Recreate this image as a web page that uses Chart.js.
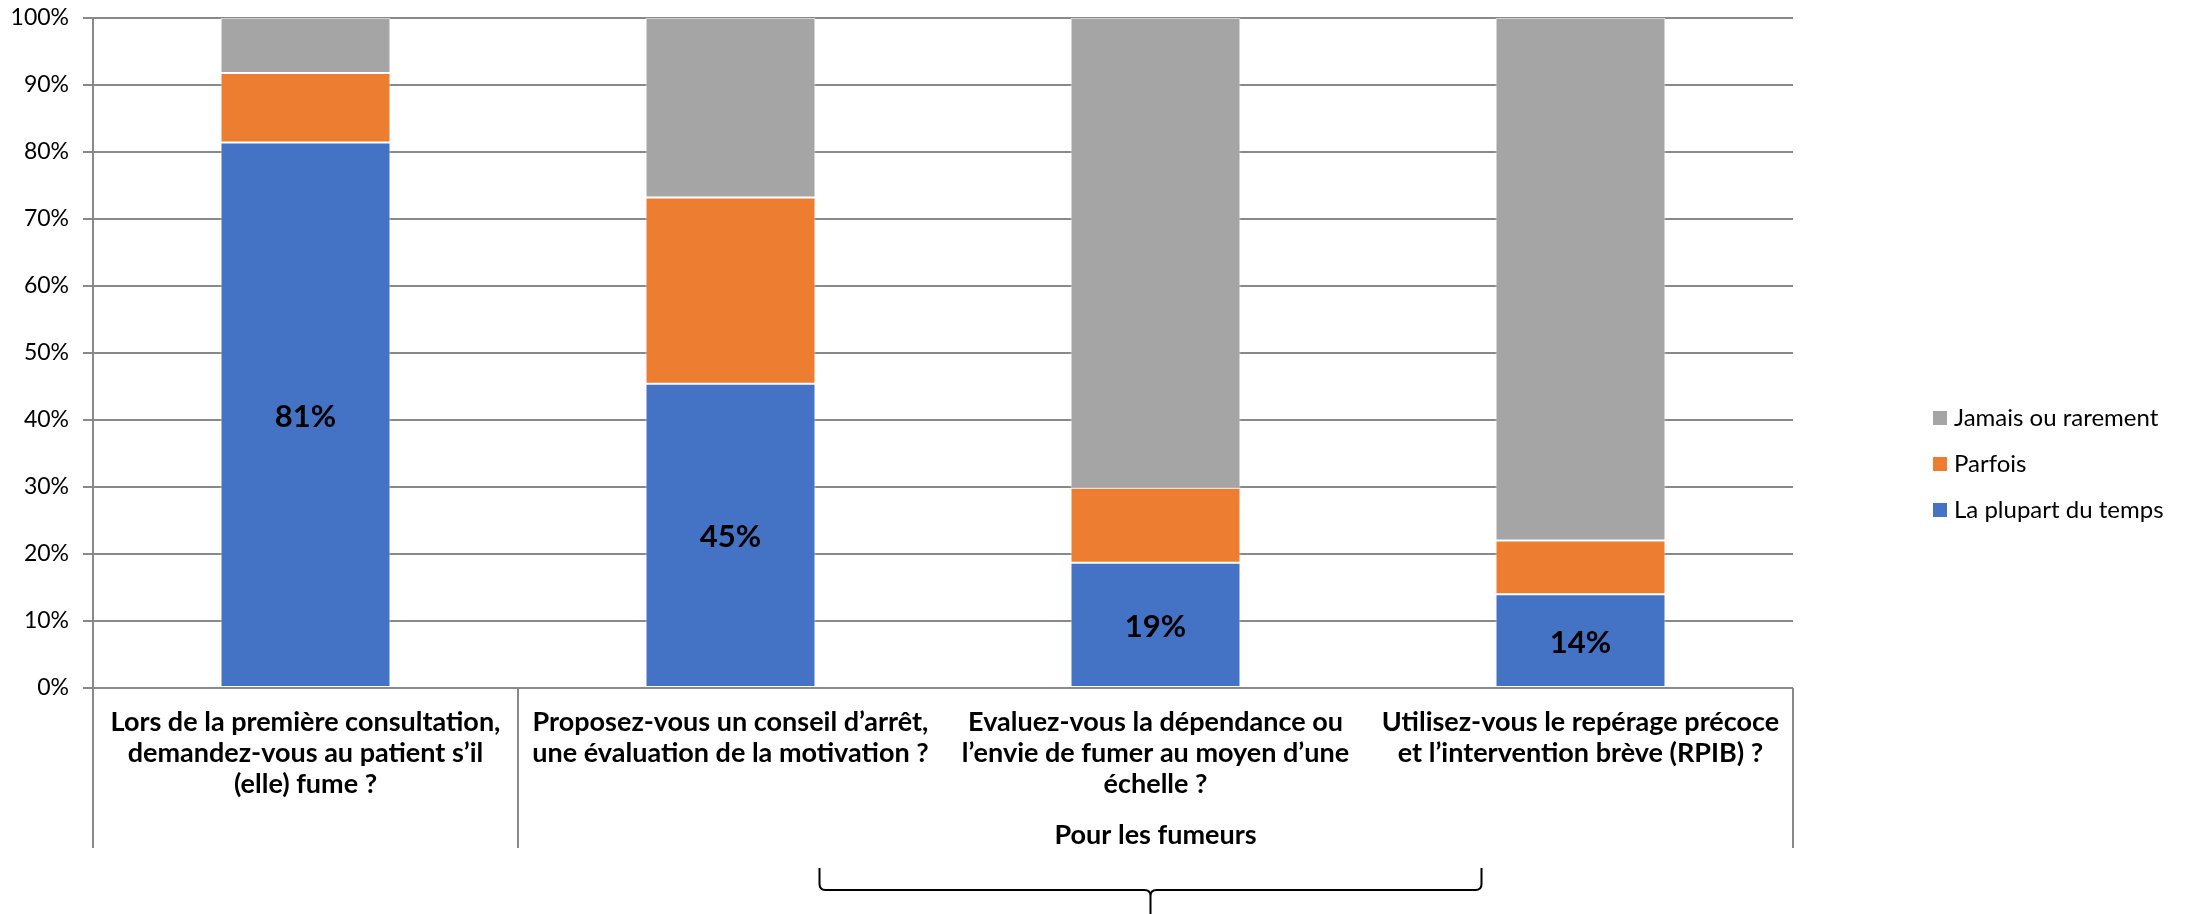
<!DOCTYPE html>
<html>
<head>
<meta charset="utf-8">
<script src="https://cdn.jsdelivr.net/npm/chart.js@4.4.1/dist/chart.umd.min.js"></script>
<style>
  html, body { margin: 0; padding: 0; background: #fff; }
  #wrap { width: 2200px; height: 914px; }
</style>
</head>
<body>
<div id="wrap"><canvas id="chart"></canvas></div>
<script>
// categories (one array per label, one string per line)
const categories = [
  ['Lors de la première consultation,', 'demandez-vous au patient s’il', '(elle) fume ?'],
  ['Proposez-vous un conseil d’arrêt,', 'une évaluation de la motivation ?'],
  ['Evaluez-vous la dépendance ou', 'l’envie de fumer au moyen d’une', 'échelle ?'],
  ['Utilisez-vous le repérage précoce', 'et l’intervention brève (RPIB) ?']
];
const groupLabel = 'Pour les fumeurs';
const groupStart = 1; // "Pour les fumeurs" covers categories 1..3

const seriesNames = ['La plupart du temps', 'Parfois', 'Jamais ou rarement'];
const plupart = [81.4, 45.4, 18.7, 14.0];
const parfois = [10.4, 27.8, 11.2, 8.0];
const jamais  = [8.2, 26.8, 70.1, 78.0];
const colors = ['#4472C4', '#ED7D31', '#A5A5A5'];

const yTicks = [0, 10, 20, 30, 40, 50, 60, 70, 80, 90, 100];

const FONT = 'Lato, "Open Sans", sans-serif';
const GRID = '#898989';

// draws the percent labels on the blue segments
const barLabels = {
  id: 'barLabels',
  afterDatasetsDraw(chart) {
    const ctx = chart.ctx;
    const meta = chart.getDatasetMeta(0);
    ctx.save();
    ctx.font = 'bold 31px ' + FONT;
    ctx.fillStyle = '#000';
    ctx.textAlign = 'center';
    ctx.textBaseline = 'middle';
    meta.data.forEach((bar, i) => {
      ctx.fillText(Math.round(plupart[i]) + '%', bar.x, (bar.y + bar.base) / 2 + 2);
    });
    ctx.restore();
  }
};

// category axis below the plot, with the group label and the brace
const categoryAxis = {
  id: 'categoryAxis',
  afterDraw(chart) {
    const ctx = chart.ctx;
    const area = chart.chartArea;
    const x = chart.scales.x;
    const half = (x.getPixelForValue(1) - x.getPixelForValue(0)) / 2;
    const bottom = area.bottom + 160;

    ctx.save();
    ctx.strokeStyle = GRID;
    ctx.lineWidth = 2;
    const sep = [area.left, x.getPixelForValue(groupStart) - half, area.right];
    sep.forEach(px => {
      ctx.beginPath();
      ctx.moveTo(px, area.bottom);
      ctx.lineTo(px, bottom);
      ctx.stroke();
    });

    ctx.fillStyle = '#000';
    ctx.font = 'bold 27px ' + FONT;
    ctx.textAlign = 'center';
    ctx.textBaseline = 'middle';
    categories.forEach((lines, i) => {
      const cx = x.getPixelForValue(i);
      lines.forEach((t, j) => ctx.fillText(t, cx, area.bottom + 34 + j * 31));
    });

    const gx = (x.getPixelForValue(groupStart) - half + area.right) / 2;
    ctx.fillText(groupLabel, gx, area.bottom + 147);

    // curly brace under the group
    const bx = gx - 5, bw = 331, top = area.bottom + 180, mid = area.bottom + 202, tip = area.bottom + 226;
    const r = 6;
    ctx.strokeStyle = '#000';
    ctx.lineWidth = 2;
    ctx.beginPath();
    ctx.moveTo(bx - bw, top);
    ctx.lineTo(bx - bw, mid - r);
    ctx.quadraticCurveTo(bx - bw, mid, bx - bw + r, mid);
    ctx.lineTo(bx - r, mid);
    ctx.quadraticCurveTo(bx, mid, bx, mid + r);
    ctx.lineTo(bx, tip);
    ctx.moveTo(bx, mid + r);
    ctx.quadraticCurveTo(bx, mid, bx + r, mid);
    ctx.lineTo(bx + bw - r, mid);
    ctx.quadraticCurveTo(bx + bw, mid, bx + bw, mid - r);
    ctx.lineTo(bx + bw, top);
    ctx.stroke();
    ctx.restore();
  }
};

// legend on the right, last series on top
const sideLegend = {
  id: 'sideLegend',
  afterDraw(chart) {
    const ctx = chart.ctx;
    const items = chart.data.datasets.map(d => ({ text: d.label, color: d.backgroundColor })).reverse();
    ctx.save();
    ctx.font = '24px ' + FONT;
    ctx.textAlign = 'left';
    ctx.textBaseline = 'middle';
    items.forEach((it, i) => {
      const y = 418 + i * 46;
      ctx.fillStyle = it.color;
      ctx.fillRect(1933, y - 7, 14, 14);
      ctx.fillStyle = '#000';
      ctx.fillText(it.text, 1954, y);
    });
    ctx.restore();
  }
};

new Chart(document.getElementById('chart'), {
  type: 'bar',
  data: {
    labels: categories,
    datasets: [
      { label: seriesNames[0], data: plupart, backgroundColor: colors[0] },
      { label: seriesNames[1], data: parfois, backgroundColor: colors[1] },
      { label: seriesNames[2], data: jamais, backgroundColor: colors[2] }
    ].map(d => Object.assign(d, {
      borderWidth: 1,
      borderColor: 'rgba(255,255,255,0.6)',
      borderSkipped: false,
      categoryPercentage: 1,
      barPercentage: 0.4
    }))
  },
  options: {
    responsive: true,
    maintainAspectRatio: false,
    animation: false,
    devicePixelRatio: 1,
    layout: { padding: { left: 0, top: 18, right: 407, bottom: 226 } },
    plugins: { legend: { display: false }, tooltip: { enabled: false } },
    scales: {
      x: { stacked: true, display: false },
      y: {
        stacked: true,
        min: 0,
        max: 100,
        afterFit: s => { s.width = 93; },
        afterBuildTicks: s => { s.ticks = yTicks.map(v => ({ value: v })); },
        ticks: {
          callback: v => v + '%',
          color: '#000',
          padding: 14,
          font: { family: FONT, size: 23, lineHeight: 0.3 }
        },
        grid: { color: GRID, lineWidth: 2, tickLength: 10 },
        border: { display: true, color: GRID, width: 2 }
      }
    }
  },
  plugins: [barLabels, categoryAxis, sideLegend]
});
</script>
</body>
</html>
